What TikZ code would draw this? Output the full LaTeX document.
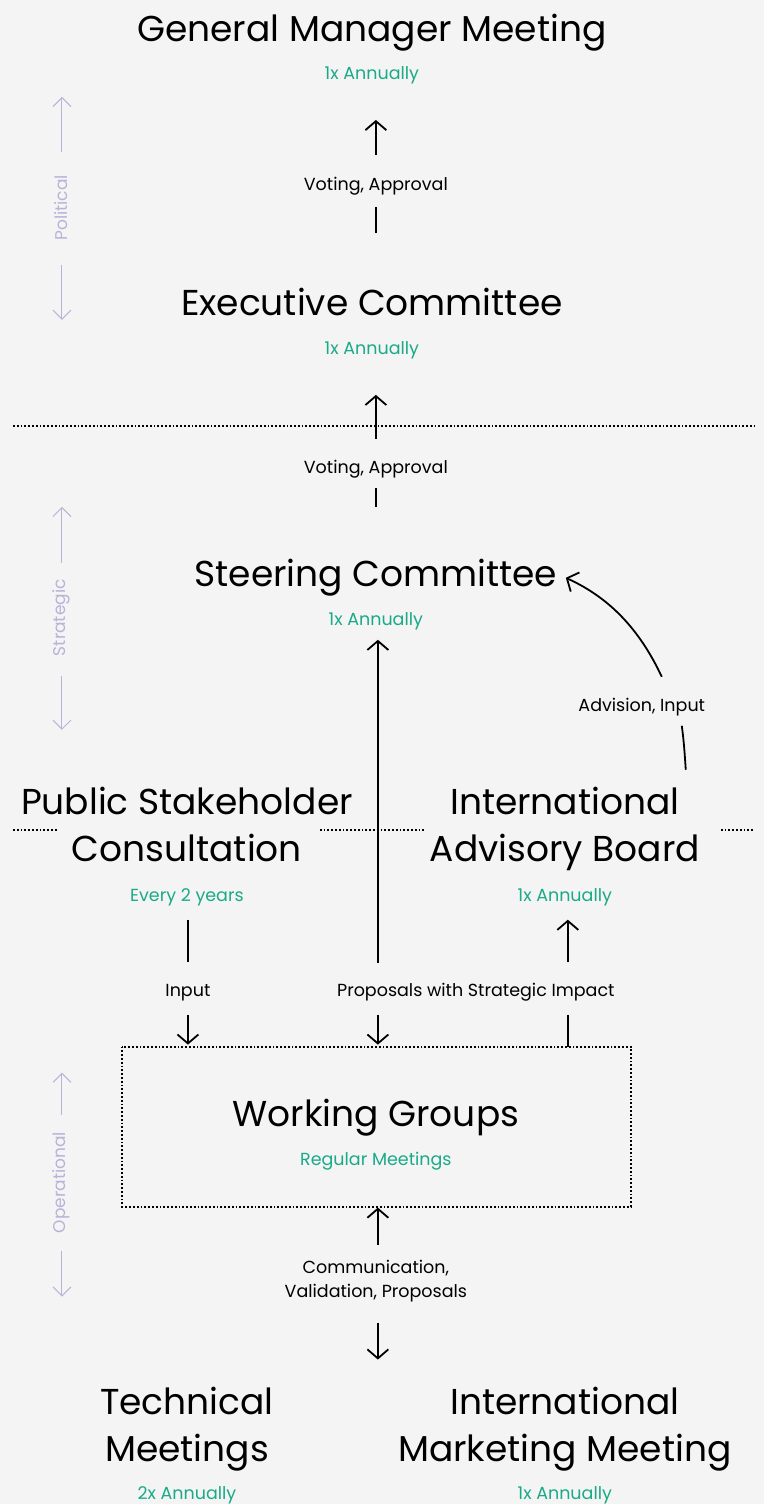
\documentclass[tikz,border=0pt]{standalone}
\usepackage{fontspec}
\setmainfont{Poppins}
\usetikzlibrary{arrows.meta}
\definecolor{bg}{HTML}{F4F4F4}
\definecolor{grn}{HTML}{1AAA88}
\definecolor{lav}{HTML}{B8B3D9}
\begin{document}
\begin{tikzpicture}[x=1pt,y=-1pt,
  title/.style={font=\fontsize{36}{47}\selectfont, align=center, inner sep=0pt, anchor=base},
  freq/.style={text=grn, font=\fontsize{17.5}{21}\selectfont, inner sep=0pt, anchor=base},
  lbl/.style={font=\fontsize{17.5}{24}\selectfont, align=center, inner sep=0pt},
  side/.style={text=lav, font=\fontsize{17}{20}\selectfont, rotate=90, inner sep=0pt},
  conn/.style={line width=1.8pt, -{Straight Barb[length=9pt,width=21pt]}},
  plain/.style={line width=1.8pt},
  sidearr/.style={draw=lav, line width=1pt, -{Straight Barb[length=9pt,width=18pt]}},
  sep/.style={line width=2pt, dash pattern=on 1.8pt off 2pt}
]
\fill[bg] (0,0) rectangle (764,1504);

% titles
\node[title] (gmm) at (372,42) {General Manager Meeting};
\node[freq] (gmmf) at (372,80) {1x Annually};
\node[title] (exc) at (372,316) {Executive Committee};
\node[freq] (excf) at (372,355) {1x Annually};
\node[title] (stc) at (376,587) {Steering Committee};
\node[freq] (stcf) at (376,626) {1x Annually};
\node[title] (psc) at (187,862) {Public Stakeholder\\Consultation};
\node[freq] (pscf) at (187,902) {Every 2 years};
\node[title] (iab) at (565,862) {International\\Advisory Board};
\node[freq] (iabf) at (565,902) {1x Annually};
\node[title] (wg) at (376,1127) {Working Groups};
\node[freq] (wgf) at (376,1166) {Regular Meetings};
\node[title] (tm) at (187,1462) {Technical\\Meetings};
\node[freq] (tmf) at (187,1500) {2x Annually};
\node[title] (imm) at (565,1462) {International\\Marketing Meeting};
\node[freq] (immf) at (565,1500) {1x Annually};

% working group box
\draw[sep] (122,1047) rectangle (631,1207);

% separators
\draw[sep] (13,426) -- (755,426);
\draw[sep] (13,830) -- (58,830);
\draw[sep] (320,830) -- (424,830);
\draw[sep] (721,830) -- (755,830);

% labels
\node[lbl] (l1) at (376,186) {Voting, Approval};
\node[lbl] (l2) at (376,469) {Voting, Approval};
\node[lbl] (l3) at (642,707) {Advision, Input};
\node[lbl] (l4) at (188,993) {Input};
\node[lbl] (l5) at (476,993) {Proposals with Strategic Impact};
\node[lbl] (l6) at (376,1282) {Communication,\\Validation, Proposals};

% connectors
\coordinate (a1b) at (376,233); \coordinate (a1m) at (376,207);
\coordinate (a1t) at (376,155); \coordinate (a1h) at (376,120);
\draw[plain] (a1b) -- (a1m);
\draw[conn] (a1t) -- (a1h);

\coordinate (a2b) at (376,507); \coordinate (a2m) at (376,488);
\coordinate (a2t) at (376,439); \coordinate (a2h) at (376,395);
\draw[plain] (a2b) -- (a2m);
\draw[conn] (a2t) -- (a2h);

\coordinate (a3b) at (378,963); \coordinate (a3h) at (378,640);
\draw[conn] (a3b) -- (a3h);
\coordinate (a3c) at (378,1015); \coordinate (a3d) at (378,1045);
\draw[conn] (a3c) -- (a3d);

\coordinate (a4a) at (188,920); \coordinate (a4b) at (188,962);
\coordinate (a4c) at (188,1015); \coordinate (a4d) at (188,1045);
\draw[plain] (a4a) -- (a4b);
\draw[conn] (a4c) -- (a4d);

\coordinate (a5a) at (568,962); \coordinate (a5h) at (568,920);
\coordinate (a5c) at (568,1015); \coordinate (a5d) at (568,1047);
\draw[conn] (a5a) -- (a5h);
\draw[plain] (a5c) -- (a5d);

% curved advisory arrow
\coordinate (c0) at (686,770);
\coordinate (c1) at (682,726);
\coordinate (c2) at (662,677);
\coordinate (c3) at (566,578);
\draw[plain] (c0) .. controls (685,755) and (684,740) .. (c1);
\draw[conn] (c2) .. controls (640,630) and (610,598) .. (c3);

% bottom arrows
\coordinate (b1a) at (378,1245); \coordinate (b1h) at (378,1208);
\draw[conn] (b1a) -- (b1h);
\coordinate (b2a) at (378,1323); \coordinate (b2h) at (378,1360);
\draw[conn] (b2a) -- (b2h);

% side labels
\node[side] (pol) at (61,208) {Political};
\coordinate (p1) at (62,152); \coordinate (p2) at (62,97);
\coordinate (p3) at (62,265); \coordinate (p4) at (62,320);
\draw[sidearr] (p1) -- (p2);
\draw[sidearr] (p3) -- (p4);

\node[side] (str) at (61,618) {Strategic};
\coordinate (s1) at (62,563); \coordinate (s2) at (62,507);
\coordinate (s3) at (62,676); \coordinate (s4) at (62,730);
\draw[sidearr] (s1) -- (s2);
\draw[sidearr] (s3) -- (s4);

\node[side] (opr) at (61,1183) {Operational};
\coordinate (o1) at (62,1115); \coordinate (o2) at (62,1073);
\coordinate (o3) at (62,1251); \coordinate (o4) at (62,1297);
\draw[sidearr] (o1) -- (o2);
\draw[sidearr] (o3) -- (o4);
\end{tikzpicture}
\end{document}
